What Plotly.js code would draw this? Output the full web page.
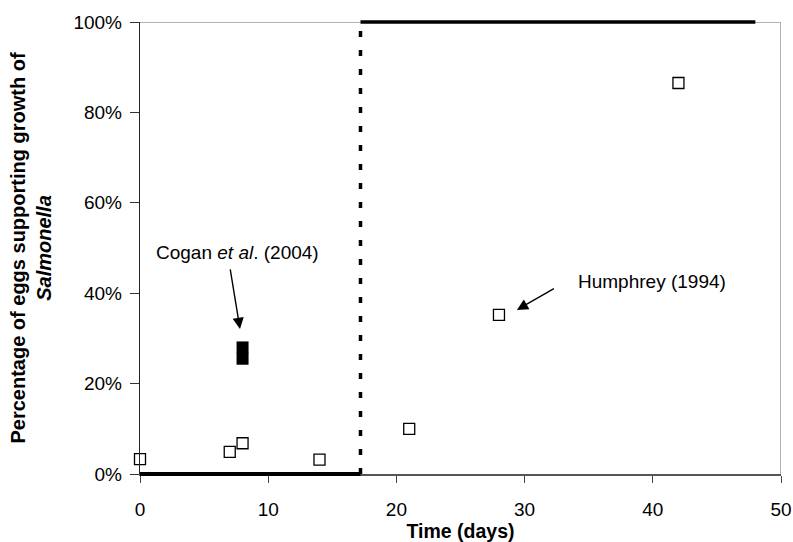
<!DOCTYPE html>
<html><head><meta charset="utf-8">
<script src="https://cdn.plot.ly/plotly-3.0.1.min.js"></script>
<style>html,body{margin:0;padding:0;background:#fff}#c{width:793px;height:542px}</style>
</head><body><div id="c"></div>
<script>
// Open squares (Humphrey 1994 and others)
const timeDays = [0, 7, 8, 14, 21, 28, 42];
const pctGrowth = [0.033, 0.049, 0.068, 0.032, 0.10, 0.352, 0.865];
// Filled squares (Cogan et al. 2004)
const coganX = [8, 8];
const coganY = [0.255, 0.28];
// Model step line
const lowX = [0, 17.2];
const lowY = [0, 0];
const stepX = [17.2, 17.2];
const stepY = [0, 1];
const highX = [17.2, 48];
const highY = [1, 1];
const yTicks = [0, 0.2, 0.4, 0.6, 0.8, 1.0];
const xTicks = [0, 10, 20, 30, 40, 50];

// geometry: plot area y 22..474 inside paper area 12..484
const padFrac = 10 / 452;

const traces = [
  {x: timeDays, y: pctGrowth, mode: 'markers', cliponaxis: false, xaxis: 'x', yaxis: 'y',
   marker: {symbol: 'square-open', size: 11, color: '#000', line: {width: 1.3, color: '#000'}}},
  {x: coganX, y: coganY, mode: 'markers', cliponaxis: false, xaxis: 'x', yaxis: 'y',
   marker: {symbol: 'square', size: 12, color: '#000', line: {width: 0}}},
  {x: lowX, y: lowY, mode: 'lines', line: {color: '#000', width: 4}, xaxis: 'x2', yaxis: 'y2', hoverinfo: 'skip'},
  {x: stepX, y: stepY, mode: 'lines', line: {color: '#000', width: 3.5, dash: '6px,13px'}, xaxis: 'x2', yaxis: 'y2', hoverinfo: 'skip'},
  {x: highX, y: highY, mode: 'lines', line: {color: '#000', width: 3.5}, xaxis: 'x2', yaxis: 'y2', hoverinfo: 'skip'}
];

const layout = {
  width: 793, height: 542,
  margin: {l: 140, r: 12, t: 12, b: 58},
  showlegend: false,
  paper_bgcolor: '#fff', plot_bgcolor: 'rgba(0,0,0,0)',
  font: {family: 'Arial, Liberation Sans, sans-serif', color: '#000', size: 19},
  xaxis: {
    domain: [0, 1], anchor: 'y',
    range: [0, 50], tickvals: xTicks, ticks: 'outside', ticklen: 7, tickcolor: '#444',
    ticklabelstandoff: 11,
    showgrid: false, zeroline: false, showline: true, linecolor: '#555', linewidth: 1.5,
    tickfont: {size: 19},
    title: {text: '<b>Time (days)</b>', font: {size: 19.5}, standoff: 0}
  },
  yaxis: {
    domain: [10 / 472, 462 / 472], anchor: 'x',
    range: [0, 1], tickvals: yTicks, tickformat: '.0%', ticks: 'outside', ticklen: 9, tickcolor: '#333',
    ticklabelstandoff: 4,
    showgrid: false, zeroline: false, showline: true, linecolor: '#222', linewidth: 1.2,
    tickfont: {size: 19},
    title: {text: '<b>Percentage of eggs supporting growth of<br><i>Salmonella</i></b>', font: {size: 20}, standoff: 16}
  },
  xaxis2: {domain: [0, 1], anchor: 'y2', range: [0, 50], visible: false, fixedrange: true},
  yaxis2: {domain: [0, 1], anchor: 'x2', range: [-padFrac, 1 + padFrac], visible: false, fixedrange: true},
  shapes: [
    {type: 'line', xref: 'x', yref: 'y', x0: 0, x1: 50, y0: 1, y1: 1, line: {color: '#999', width: 1.5}, layer: 'below'},
    {type: 'line', xref: 'x', yref: 'y', x0: 50, x1: 50, y0: 0, y1: 1, line: {color: '#999', width: 1.5}, layer: 'below'}
  ],
  annotations: [
    {x: 7.6, y: 0.491, xref: 'x', yref: 'y', text: 'Cogan <i>et al</i>. (2004)', showarrow: false, font: {size: 19}},
    {x: 7.8, y: 0.321, ax: 7.02, ay: 0.456, axref: 'x', ayref: 'y', xref: 'x', yref: 'y', text: '',
     showarrow: true, arrowhead: 2, arrowsize: 1.6, arrowwidth: 1.4, arrowcolor: '#000'},
    {x: 39.9, y: 0.425, xref: 'x', yref: 'y', text: 'Humphrey (1994)', showarrow: false, font: {size: 19}},
    {x: 29.4, y: 0.363, ax: 32.4, ay: 0.412, axref: 'x', ayref: 'y', xref: 'x', yref: 'y', text: '',
     showarrow: true, arrowhead: 2, arrowsize: 1.6, arrowwidth: 1.4, arrowcolor: '#000'}
  ]
};
Plotly.newPlot('c', traces, layout, {displayModeBar: false, staticPlot: true});
</script></body></html>
